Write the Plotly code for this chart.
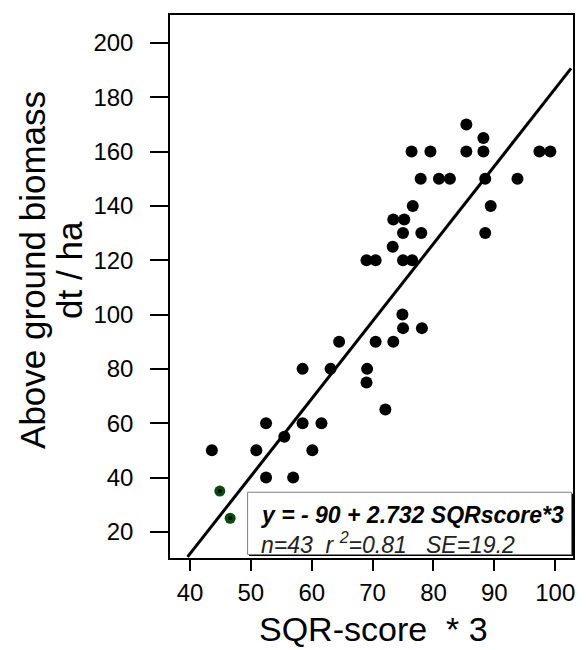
import plotly.graph_objects as go

# ---- data ----
sqr_score_x3 = [85.4, 88.2, 76.4, 79.5, 85.4, 88.2, 97.4, 99.2,
                77.9, 80.9, 82.7, 88.5, 93.8,
                76.6, 89.4,
                73.4, 75.2,
                75.0, 78.0, 88.5,
                73.3,
                69.0, 70.5, 75.0, 76.5,
                74.9, 75.0, 78.1,
                64.5, 70.5, 73.4,
                58.5, 63.1, 69.1,
                69.0, 72.1,
                52.5, 58.5, 61.6,
                55.5,
                43.6, 50.9, 60.1,
                52.5, 56.95]
biomass = [170, 165, 160, 160, 160, 160, 160, 160,
           150, 150, 150, 150, 150,
           140, 140,
           135, 135,
           130, 130, 130,
           125,
           120, 120, 120, 120,
           100, 95, 95,
           90, 90, 90,
           80, 80, 80,
           75, 65,
           60, 60, 60,
           55,
           50, 50, 50,
           40, 40]
green_x = [44.9, 46.6]
green_y = [35, 25]

# drawn regression line (as plotted)
line_intercept = -102.3
line_slope = 2.855
line_x_range = [39.6, 102.6]

eq_text = "y = - 90 + 2.732 SQRscore*3"
stats_text = "n=43  r <sup>2</sup>=0.81   SE=19.2"
x_title = "SQR-score  * 3"
y_title_lines = ["Above ground biomass", "dt / ha"]

x_ticks = [40, 50, 60, 70, 80, 90, 100]
y_ticks = [20, 40, 60, 80, 100, 120, 140, 160, 180, 200]

FONT = "Arial, 'Liberation Sans', sans-serif"
W, H = 588, 650
ML, MR, MT, MB = 170, 14.5, 15, 91.5
PW, PH = W - ML - MR, H - MT - MB


def px(xp):
    return (xp - ML) / PW


def py(yp):
    return (H - MB - yp) / PH


fig = go.Figure()

line_y = [line_intercept + line_slope * xv for xv in line_x_range]
fig.add_trace(go.Scatter(x=line_x_range, y=line_y, mode="lines",
                         line=dict(color="black", width=3), hoverinfo="skip"))
fig.add_trace(go.Scatter(x=sqr_score_x3, y=biomass, mode="markers",
                         marker=dict(color="black", size=12, line=dict(width=0))))
fig.add_trace(go.Scatter(x=green_x, y=green_y, mode="markers",
                         marker=dict(color="#0b4a0b", size=11, line=dict(width=0))))
fig.add_trace(go.Scatter(x=green_x, y=green_y, mode="markers",
                         marker=dict(color="black", size=4, line=dict(width=0))))

# stat box (shadow + box), in paper coords from pixel positions
bx0, bx1, by_top, by_bot = 247.7, 572.0, 492.7, 555.0
fig.add_shape(type="rect", xref="paper", yref="paper", x0=px(bx0 + 1.5), x1=px(bx1 + 1.5),
              y0=py(by_bot + 1.5), y1=py(by_top + 1.5), fillcolor="black",
              line=dict(width=0), layer="above")
fig.add_shape(type="rect", xref="paper", yref="paper", x0=px(bx0), x1=px(bx1),
              y0=py(by_bot), y1=py(by_top), fillcolor="white",
              line=dict(color="#808080", width=1), layer="above")

fig.add_annotation(x=px(259), y=py(515), xref="paper", yref="paper",
                   text="<b><i>" + eq_text + "</i></b>",
                   showarrow=False, xanchor="left", yanchor="middle",
                   font=dict(family=FONT, size=23, color="black"))
fig.add_annotation(x=px(259), y=py(543), xref="paper", yref="paper",
                   text="<i>" + stats_text + "</i>",
                   showarrow=False, xanchor="left", yanchor="middle",
                   font=dict(family=FONT, size=23, color="#222222"))

# axis titles
fig.add_annotation(x=px(374), y=py(630), xref="paper", yref="paper",
                   text=x_title, showarrow=False, xanchor="center", yanchor="middle",
                   font=dict(family=FONT, size=34, color="black"))
for xpos, txt in zip([33, 70], y_title_lines):
    fig.add_annotation(x=px(xpos), y=py(270), xref="paper", yref="paper",
                       text=txt, showarrow=False, textangle=-90,
                       xanchor="center", yanchor="middle",
                       font=dict(family=FONT, size=35, color="black"))

fig.update_layout(
    width=W, height=H,
    margin=dict(l=ML, r=MR, t=MT, b=MB),
    paper_bgcolor="white", plot_bgcolor="white",
    showlegend=False,
    font=dict(family=FONT, color="black"),
    xaxis=dict(range=[36.72, 102.92], tickvals=x_ticks, ticks="outside", ticklen=11,
               tickwidth=1.5, tickcolor="black", showgrid=False, zeroline=False,
               showline=True, linecolor="black", linewidth=1.5, mirror=True,
               tickfont=dict(family=FONT, size=24, color="black"), ticklabelstandoff=1),
    yaxis=dict(range=[10.36, 210.3], tickvals=y_ticks, ticks="outside", ticklen=18,
               tickwidth=1.5, tickcolor="black", showgrid=False, zeroline=False,
               showline=True, linecolor="black", linewidth=1.5, mirror=True,
               tickfont=dict(family=FONT, size=24, color="black"), ticklabelstandoff=12),
)

fig.write_html("out.html", config={"displayModeBar": False},
               post_script="document.body.style.margin='0';document.body.style.overflow='hidden';")
